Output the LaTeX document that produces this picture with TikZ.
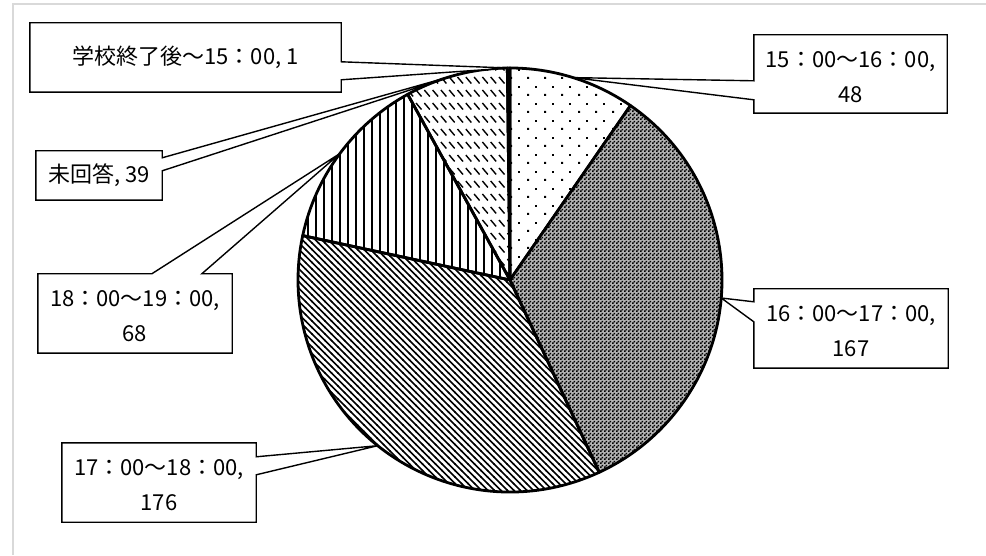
\documentclass[tikz,border=0pt]{standalone}
\usepackage{fontspec}
\setmainfont{Noto Sans CJK JP}
\usepackage{tikz}
\usetikzlibrary{positioning}
\usetikzlibrary{calc}
\usetikzlibrary{patterns}

\pgfdeclarepatternformonly{sparsedots}{\pgfpointorigin}{\pgfpoint{17pt}{17pt}}{\pgfpoint{17pt}{17pt}}{
  \pgfpathrectangle{\pgfpoint{0pt}{0pt}}{\pgfpoint{2.2pt}{2.2pt}}
  \pgfpathrectangle{\pgfpoint{8.5pt}{8.5pt}}{\pgfpoint{1.8pt}{1.8pt}}
  \pgfusepath{fill}}
\pgfdeclarepatternformonly{finechecker}{\pgfpointorigin}{\pgfpoint{4pt}{4pt}}{\pgfpoint{4pt}{4pt}}{
  \pgfpathrectangle{\pgfpoint{0pt}{0pt}}{\pgfpoint{2pt}{2pt}}
  \pgfpathrectangle{\pgfpoint{2pt}{2pt}}{\pgfpoint{2pt}{2pt}}
  \pgfusepath{fill}}
\pgfdeclarepatternformonly{densediag}{\pgfpoint{-1pt}{-1pt}}{\pgfpoint{7.5pt}{7.5pt}}{\pgfpoint{6.5pt}{6.5pt}}{
  \pgfsetlinewidth{1.7pt}
  \pgfpathmoveto{\pgfpoint{-0.5pt}{7pt}}
  \pgfpathlineto{\pgfpoint{7pt}{-0.5pt}}
  \pgfusepath{stroke}}
\pgfdeclarepatternformonly{vlines}{\pgfpoint{-1pt}{-1pt}}{\pgfpoint{9pt}{9pt}}{\pgfpoint{8pt}{8pt}}{
  \pgfsetlinewidth{2.4pt}
  \pgfpathmoveto{\pgfpoint{4pt}{-1pt}}
  \pgfpathlineto{\pgfpoint{4pt}{9pt}}
  \pgfusepath{stroke}}
\pgfdeclarepatternformonly{dashdiag}{\pgfpoint{-1pt}{-1pt}}{\pgfpoint{9.3pt}{14pt}}{\pgfpoint{8.3pt}{13pt}}{
  \pgfsetlinewidth{1.4pt}
  \pgfpathmoveto{\pgfpoint{1pt}{10pt}}
  \pgfpathlineto{\pgfpoint{6.5pt}{3.5pt}}
  \pgfusepath{stroke}}

\tikzset{
  slice/.style={draw=black, line width=2.8pt, line join=round},
  callout/.style={draw=black, line width=1.4pt, fill=white, line join=miter},
  lbl/.style={align=center, inner sep=0pt, font=\fontsize{22}{35}\selectfont},
  frame/.style={draw=black!15, line width=1.5pt}
}

\begin{document}
\begin{tikzpicture}[x=1pt, y=1pt]
  \useasboundingbox (0,0) rectangle (986,555);
  \draw[frame] (13,0) -- (13,551) -- (986,551);

  % pie
  \coordinate (pc) at (510,275);
  \draw[slice, pattern=sparsedots] (pc) -- ++(90:212) arc[start angle=90, end angle=55.371, radius=212] -- cycle;
  \draw[slice, preaction={fill=black!30}, pattern=finechecker] (pc) -- ++(55.371:212) arc[start angle=55.371, end angle=-65.110, radius=212] -- cycle;
  \draw[slice, pattern=densediag] (pc) -- ++(-65.110:212) arc[start angle=-65.110, end angle=-192.084, radius=212] -- cycle;
  \draw[slice, pattern=vlines] (pc) -- ++(-192.084:212) arc[start angle=-192.084, end angle=-241.142, radius=212] -- cycle;
  \draw[slice, pattern=dashdiag] (pc) -- ++(-241.142:212) arc[start angle=-241.142, end angle=-269.279, radius=212] -- cycle;
  \draw[slice, fill=white] (pc) -- ++(-269.279:212) arc[start angle=-269.279, end angle=-270, radius=212] -- cycle;

  % label tips
  \path (pc) ++(90.361:212) coordinate (tipAfter);
  \path (pc) ++(104.789:212) coordinate (tipNone);
  \path (pc) ++(143.387:212) coordinate (tip1819);
  \path (pc) ++(72.686:212) coordinate (tip1516);
  \path (pc) ++(-4.870:212) coordinate (tip1617);
  \path (pc) ++(-128.597:212) coordinate (tip1718);

  % labels
  \node[lbl, minimum width=311pt, minimum height=69pt] (lblAfter) at (185.5,497.5) {};
  \node[lbl, minimum width=126pt, minimum height=49pt] (lblNone) at (99,379.5) {};
  \node[lbl, minimum width=194pt, minimum height=79pt] (lbl1819) at (135,241.5) {};
  \node[lbl, minimum width=193pt, minimum height=78pt] (lbl1516) at (850.5,481) {};
  \node[lbl, minimum width=194pt, minimum height=79pt] (lbl1617) at (851,226.5) {};
  \node[lbl, minimum width=194pt, minimum height=79pt] (lbl1718) at (159,72.5) {};

  \draw[callout] (lblAfter.north west) -- (lblAfter.north east) -- ([yshift=-39pt]lblAfter.north east) -- (tipAfter)
    -- ([yshift=-57pt]lblAfter.north east) -- (lblAfter.south east) -- (lblAfter.south west) -- cycle;
  \draw[callout] (lblNone.north west) -- (lblNone.north east) -- ([yshift=-7pt]lblNone.north east) -- (tipNone)
    -- ([yshift=-20pt]lblNone.north east) -- (lblNone.south east) -- (lblNone.south west) -- cycle;
  \draw[callout] (lbl1819.north west) -- ([xshift=114pt]lbl1819.north west) -- (tip1819)
    -- ([xshift=164pt]lbl1819.north west) -- (lbl1819.north east) -- (lbl1819.south east) -- (lbl1819.south west) -- cycle;
  \draw[callout] (lbl1516.north west) -- (lbl1516.north east) -- (lbl1516.south east) -- (lbl1516.south west)
    -- ([yshift=-65pt]lbl1516.north west) -- (tip1516) -- ([yshift=-46pt]lbl1516.north west) -- cycle;
  \draw[callout] (lbl1617.north west) -- (lbl1617.north east) -- (lbl1617.south east) -- (lbl1617.south west)
    -- ([yshift=-33pt]lbl1617.north west) -- (tip1617) -- ([yshift=-13pt]lbl1617.north west) -- cycle;
  \draw[callout] (lbl1718.north west) -- (lbl1718.north east) -- ([yshift=-14pt]lbl1718.north east) -- (tip1718)
    -- ([yshift=-32pt]lbl1718.north east) -- (lbl1718.south east) -- (lbl1718.south west) -- cycle;

  \node[lbl] at (lblAfter) {学校終了後～15：00, 1};
  \node[lbl] at (lblNone) {未回答, 39};
  \node[lbl] at ([yshift=-3pt]lbl1819) {18：00～19：00,\\68};
  \node[lbl] at ([yshift=-3pt]lbl1516) {15：00～16：00,\\48};
  \node[lbl] at ([yshift=-3pt]lbl1617) {16：00～17：00,\\167};
  \node[lbl] at ([yshift=-3pt]lbl1718) {17：00～18：00,\\176};
\end{tikzpicture}
\end{document}
